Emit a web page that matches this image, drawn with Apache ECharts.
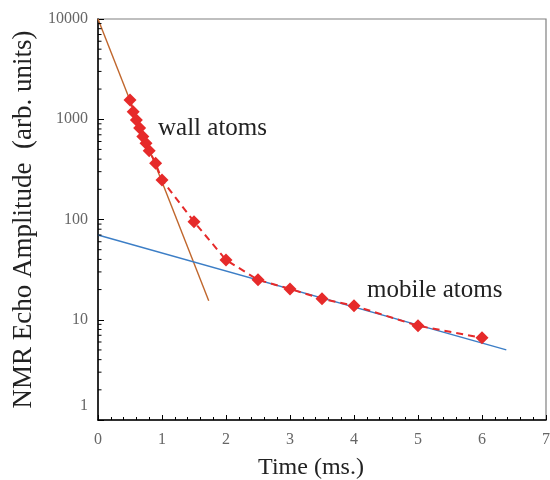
<!DOCTYPE html>
<html><head><meta charset="utf-8">
<script src="https://cdn.jsdelivr.net/npm/echarts@6/dist/echarts.min.js"></script>
<style>html,body{margin:0;padding:0;background:#fff}#c{width:550px;height:480px}</style>
</head><body><div id="c"></div>
<script>
const times = [0.5, 0.55, 0.6, 0.65, 0.7, 0.75, 0.8, 0.9, 1.0, 1.5, 2.0, 2.5, 3.0, 3.5, 4.0, 5.0, 6.0];
const amplitudes = [1560, 1190, 985, 818, 671, 577, 486, 364, 248, 95, 39.5, 25, 20.3, 16.2, 13.8, 8.7, 6.6];
const wallFit = [[0, 10000], [1.73, 15.5]];
const mobileFit = [[0, 70], [6.38, 5.0]];
const xTicks = [0, 1, 2, 3, 4, 5, 6, 7];
const yTicks = [1, 10, 100, 1000, 10000];
const yMinorTicks = [];
[1, 10, 100, 1000].forEach(d => { for (let k = 2; k <= 9; k++) yMinorTicks.push(d * k); });

const FONT = '"Liberation Serif", "DejaVu Serif", serif';
const chart = echarts.init(document.getElementById('c'), null, {renderer: 'canvas'});
const pts = times.map((t, i) => [t, amplitudes[i]]);

chart.setOption({
  animation: false,
  backgroundColor: '#fff',
  grid: {left: 98, right: 4, top: 19, bottom: 60, containLabel: false, outerBoundsMode: 'none',
    show: true, borderColor: '#808080', borderWidth: 1.2},
  xAxis: {
    type: 'value', min: 0, max: 7, interval: 1,
    name: 'Time (ms.)', nameLocation: 'middle', nameGap: 36,
    nameTextStyle: {fontFamily: FONT, fontSize: 24, color: '#222', padding: [0, 22, 0, 0]},
    axisLine: {lineStyle: {color: '#000', width: 1.5}},
    axisTick: {inside: true, length: 5, lineStyle: {color: '#000'}},
    minorTick: {show: true, splitNumber: 5, length: 3, lineStyle: {color: '#000'}},
    splitLine: {show: false},
    axisLabel: {fontFamily: FONT, fontSize: 16, color: '#666', margin: 12,
      formatter: v => xTicks.includes(v) ? String(v) : ''}
  },
  yAxis: {
    type: 'log', logBase: 10, min: 1, max: 10000,
    name: 'NMR Echo Amplitude  (arb. units)', nameLocation: 'middle', nameGap: 54,
    nameTextStyle: {fontFamily: FONT, fontSize: 27, color: '#222'},
    axisLine: {lineStyle: {color: '#000', width: 1.5}},
    axisTick: {inside: true, length: 6, lineStyle: {color: '#000'}},
    splitLine: {show: false},
    axisLabel: {fontFamily: FONT, fontSize: 16, color: '#666', margin: 10,
      formatter: v => v === 1 ? '{r|1}' : String(v),
      rich: {r: {fontFamily: FONT, fontSize: 16, color: '#666', padding: [0, 0, 28, 0]}}}
  },
  series: [
    {
      type: 'custom', silent: true, z: 5,
      data: yMinorTicks.map(v => [0, v]),
      renderItem: (params, api) => {
        const p = api.coord([0, api.value(1)]);
        return {type: 'line', shape: {x1: p[0], y1: p[1], x2: p[0] + 3.5, y2: p[1]},
          style: {stroke: '#000', lineWidth: 1}};
      }
    },
    {type: 'line', data: wallFit, showSymbol: false, symbol: 'none',
      lineStyle: {color: '#c0662c', width: 1.4}, z: 2},
    {type: 'line', data: mobileFit, showSymbol: false, symbol: 'none',
      lineStyle: {color: '#3c7ec6', width: 1.4}, z: 2},
    {type: 'line', data: pts, symbol: 'diamond', symbolSize: 13,
      itemStyle: {color: '#e62a2a'},
      lineStyle: {color: '#e62a2a', width: 2, type: [7, 5]}, z: 3}
  ],
  graphic: [
    {type: 'text', left: 158, top: 116, style: {text: 'wall atoms', font: '25px ' + FONT, fill: '#222'}},
    {type: 'text', left: 367, top: 278, style: {text: 'mobile atoms', font: '25px ' + FONT, fill: '#222'}}
  ]
});
</script></body></html>
